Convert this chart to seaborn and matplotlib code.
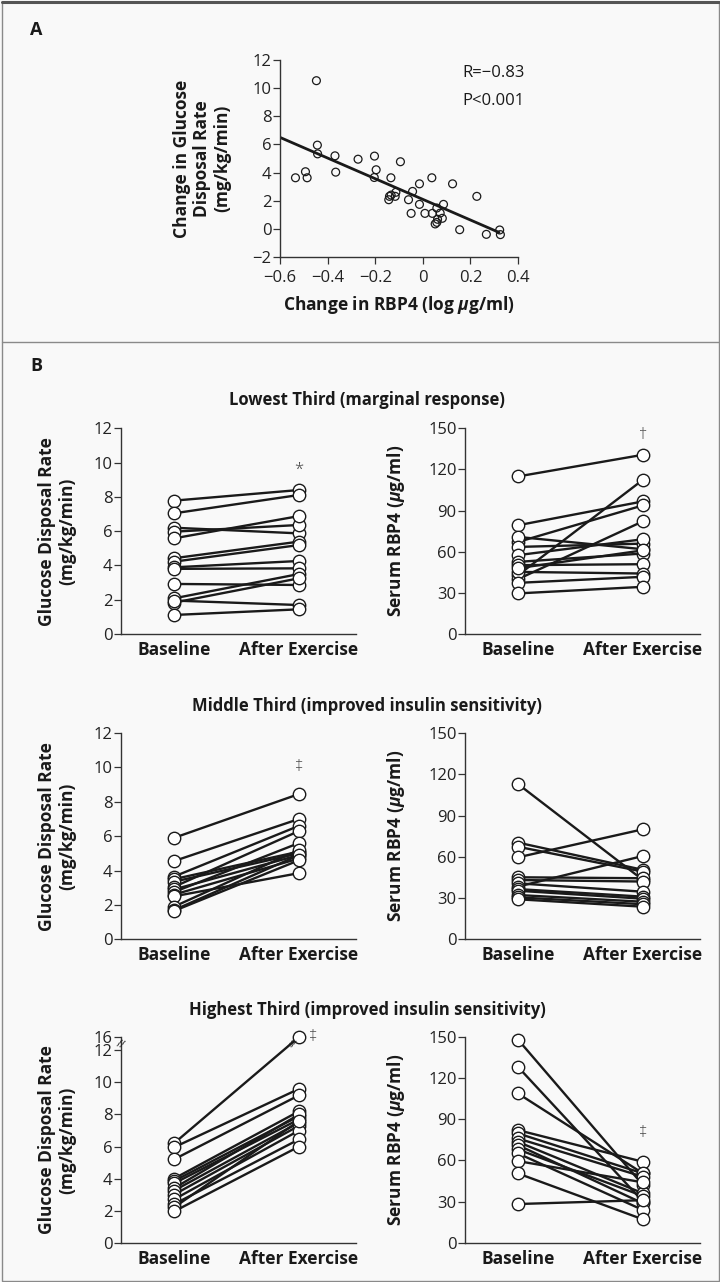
import numpy as np
import pandas as pd
import matplotlib
matplotlib.use("Agg")
import matplotlib.pyplot as plt
import matplotlib.transforms as mtransforms
from matplotlib.patches import Rectangle
from matplotlib.lines import Line2D
import seaborn as sns

sns.set_theme(style="ticks")
FONT = ["Open Sans", "DejaVu Sans"]
plt.rcParams["font.family"] = FONT
plt.rcParams["mathtext.fontset"] = "custom"
plt.rcParams["mathtext.it"] = "Open Sans:italic:bold"
plt.rcParams["mathtext.rm"] = "Open Sans:bold"
plt.rcParams["axes.unicode_minus"] = True

# ---------------- Panel A data ----------------
rbp4_change = [-0.535, -0.493, -0.486, -0.447, -0.443, -0.442, -0.369, -0.366, -0.272,
               -0.203, -0.196, -0.204, -0.134, -0.094, -0.140, -0.143, -0.133, -0.116,
               -0.113, -0.043, -0.060, -0.014, -0.014, -0.049, 0.009, 0.040, 0.038,
               0.059, 0.052, 0.059, 0.062, 0.073, 0.082, 0.087, 0.125, 0.155, 0.227,
               0.267, 0.323, 0.326]
gdr_change = [3.63, 4.06, 3.63, 10.53, 5.95, 5.33, 5.19, 4.03, 4.95,
              5.17, 4.20, 3.65, 3.63, 4.77, 2.31, 2.07, 2.40, 2.31,
              2.60, 2.66, 2.07, 3.20, 1.74, 1.10, 1.10, 1.10, 3.63,
              1.48, 0.35, 0.46, 0.68, 1.12, 0.75, 1.74, 3.20, -0.06, 2.31,
              -0.39, -0.08, -0.41]
fit_x = [-0.6, 0.32]
fit_y = [6.5, -0.25]
stat_lines = ["R=\u22120.83", "P<0.001"]

# ---------------- Panel B data ----------------
times = ["Baseline", "After Exercise"]
row_titles = ["Lowest Third (marginal response)",
              "Middle Third (improved insulin sensitivity)",
              "Highest Third (improved insulin sensitivity)"]

low_gdr_base = [7.78, 7.04, 6.20, 5.97, 5.58, 4.42, 4.22, 3.89, 3.80, 2.92, 2.08, 1.83, 1.95, 1.11]
low_gdr_after = [8.40, 8.11, 5.87, 6.36, 6.88, 5.39, 5.19, 4.26, 3.83, 2.86, 3.50, 3.25, 1.69, 1.44]
low_rbp_base = [114.9, 79.3, 67.1, 42.9, 40.0, 70.8, 63.5, 57.5, 52.6, 50.2, 45.3, 37.3, 29.6, 48.0]
low_rbp_after = [130.7, 96.7, 93.8, 112.5, 82.2, 61.8, 65.9, 69.1, 58.7, 50.9, 44.1, 41.7, 34.4, 61.0]

mid_gdr_base = [5.90, 4.55, 3.65, 3.50, 3.35, 3.05, 2.90, 2.75, 2.60, 2.50, 1.90, 1.70, 1.65]
mid_gdr_after = [8.45, 7.00, 6.60, 5.10, 5.00, 6.30, 4.90, 5.60, 4.70, 3.85, 5.20, 4.90, 4.60]
mid_rbp_base = [112.9, 70.3, 67.3, 59.6, 45.1, 43.1, 40.7, 38.3, 36.5, 35.3, 32.2, 30.5, 29.1]
mid_rbp_after = [43.1, 50.5, 49.2, 80.0, 44.4, 42.0, 34.6, 60.6, 31.0, 29.5, 27.3, 25.5, 23.7]

high_gdr_base = [6.20, 5.95, 5.20, 4.00, 3.85, 3.70, 3.40, 3.25, 3.00, 2.70, 2.40, 2.20, 1.95]
high_gdr_after = [16.0, 9.60, 9.20, 8.20, 7.90, 7.70, 8.00, 7.50, 7.30, 7.00, 6.45, 7.60, 6.00]
high_rbp_base = [148.1, 128.2, 108.8, 82.1, 79.7, 76.0, 73.5, 71.1, 68.0, 65.1, 59.5, 50.5, 28.2]
high_rbp_after = [42.0, 30.0, 50.5, 59.0, 50.5, 48.1, 36.0, 28.7, 34.0, 23.8, 44.0, 17.0, 31.0]

gdr_ticks = [0, 2, 4, 6, 8, 10, 12]
gdr_ticks_high = [0, 2, 4, 6, 8, 10, 12, 16]
rbp_ticks = [0, 30, 60, 90, 120, 150]

# significance marks: (text, x position, y value)
marks = {
    ("low", "gdr"): ("*", 1.0, 9.6),
    ("low", "rbp"): ("\u2020", 1.0, 145),
    ("mid", "gdr"): ("\u2021", 1.0, 10.0),
    ("high", "gdr"): ("\u2021", 1.11, 16.0),
    ("high", "rbp"): ("\u2021", 1.0, 80),
}

# ---------------- Figure ----------------
W, H = 720, 1282
BG = "#f9f9f9"
INK = "#1a1a1a"
SPINE = "#333333"
TICK_FS = 12
LABEL_FS = 12.5
fig = plt.figure(figsize=(W / 100, H / 100), dpi=100, facecolor=BG)


def rect(x0, y0, x1, y1):
    return [x0 / W, 1 - y1 / H, (x1 - x0) / W, (y1 - y0) / H]


def style_axes(ax):
    ax.set_facecolor(BG)
    for s in ["top", "right"]:
        ax.spines[s].set_visible(False)
    for s in ["left", "bottom"]:
        ax.spines[s].set_color(SPINE)
        ax.spines[s].set_linewidth(1.0)
    ax.tick_params(axis="both", colors=SPINE, labelcolor="#222222", labelsize=TICK_FS,
                   width=0.9, length=5, direction="out")


# Panel A
axA = fig.add_axes(rect(280, 60, 518, 257))
style_axes(axA)
sns.scatterplot(x=rbp4_change, y=gdr_change, ax=axA, s=32, facecolor="none",
                edgecolor=INK, linewidth=0.9, zorder=3, clip_on=False, legend=False)
sns.lineplot(x=fit_x, y=fit_y, ax=axA, color=INK, lw=2.0, zorder=2)
axA.set_xlim(-0.6, 0.4)
axA.set_ylim(-2, 12)
axA.set_xticks([-0.6, -0.4, -0.2, 0, 0.2, 0.4])
axA.set_xticklabels(["\u22120.6", "\u22120.4", "\u22120.2", "0", "0.2", "0.4"])
axA.set_yticks([-2, 0, 2, 4, 6, 8, 10, 12])
axA.set_yticklabels(["\u22122", "0", "2", "4", "6", "8", "10", "12"])
axA.tick_params(axis="y", pad=1)
axA.tick_params(axis="x", pad=4)
axA.set_ylabel("Change in Glucose\nDisposal Rate\n(mg/kg/min)", fontsize=LABEL_FS,
               fontweight="bold", color=INK, linespacing=1.15)
axA.yaxis.set_label_coords(-0.205, 0.5)
axA.set_xlabel("Change in RBP4 (log $\\mu$g/ml)", fontsize=LABEL_FS, fontweight="bold", color=INK)
axA.xaxis.set_label_coords(0.5, -0.19)
for i, t in enumerate(stat_lines):
    fig.text(462 / W, 1 - (73 + 28 * i) / H, t, fontsize=12, color=INK, va="center")


def paired(ax, base, after):
    n = len(base)
    df = pd.DataFrame({
        "subject": list(range(n)) * 2,
        "pos": [0] * n + [1] * n,
        "value": list(base) + list(after),
    })
    sns.lineplot(data=df, x="pos", y="value", units="subject", estimator=None,
                 color=INK, lw=1.7, ax=ax, legend=False, sort=False, zorder=2)
    sns.scatterplot(data=df, x="pos", y="value", s=80, facecolor="white",
                    edgecolor=INK, linewidth=1.0, zorder=3, clip_on=False,
                    ax=ax, legend=False)


rows = [
    ("low", 428.3, 634.0, low_gdr_base, low_gdr_after, low_rbp_base, low_rbp_after),
    ("mid", 733.0, 939.3, mid_gdr_base, mid_gdr_after, mid_rbp_base, mid_rbp_after),
    ("high", 1037.0, 1242.7, high_gdr_base, high_gdr_after, high_rbp_base, high_rbp_after),
]
title_y = [400, 706, 1010]


def fwd(v):
    v = np.asarray(v, dtype=float)
    return np.where(v <= 12, v, 12 + (v - 12) * 0.209)


def inv(u):
    u = np.asarray(u, dtype=float)
    return np.where(u <= 12, u, 12 + (u - 12) / 0.209)


for (key, top, bot, gb, ga, rb, ra), ty, title in zip(rows, title_y, row_titles):
    fig.text(367 / W, 1 - ty / H, title, ha="center", va="center", fontsize=12,
             fontweight="bold", color=INK)
    axL = fig.add_axes(rect(121, top, 356, bot))
    axR = fig.add_axes(rect(465, top, 700, bot))
    for ax in (axL, axR):
        style_axes(ax)
    if key == "high":
        axL.set_yscale("function", functions=(fwd, inv))
    paired(axL, gb, ga)
    paired(axR, rb, ra)
    for ax in (axL, axR):
        ax.set_xlim(-0.424, 1.456)
        ax.set_xticks([0, 1])
        ax.set_xticklabels(times, fontsize=LABEL_FS, fontweight="bold", color=INK)
        ax.tick_params(axis="x", length=0, pad=5)
        ax.tick_params(axis="y", pad=1)
        ax.set_xlabel("")
    ticks = gdr_ticks_high if key == "high" else gdr_ticks
    axL.set_ylim(0, 16 if key == "high" else 12)
    axL.set_yticks(ticks)
    axL.yaxis.set_minor_locator(matplotlib.ticker.NullLocator())
    axL.set_yticklabels([str(t) for t in ticks])
    axR.set_ylim(0, 150)
    axR.set_yticks(rbp_ticks)
    axL.set_ylabel("Glucose Disposal Rate\n(mg/kg/min)", fontsize=LABEL_FS,
                   fontweight="bold", color=INK, linespacing=1.15)
    axL.yaxis.set_label_coords(-0.19, 0.5)
    axR.set_ylabel("Serum RBP4 ($\\mu$g/ml)", fontsize=LABEL_FS, fontweight="bold", color=INK)
    axR.yaxis.set_label_coords(-0.245, 0.5)
    for side, ax in (("gdr", axL), ("rbp", axR)):
        if (key, side) in marks:
            sym, mx, my = marks[(key, side)]
            ax.text(mx, my, sym, ha="center", va="center", fontsize=12,
                    color="#444444", zorder=4, fontweight="light")
    if key == "high":
        blend = mtransforms.blended_transform_factory(axL.transAxes, axL.transData)
        axL.text(0.0, 13.5, "//", transform=blend, ha="center", va="center",
                 fontsize=8, color=INK, rotation=-20, zorder=5)
        axL.text(0.94, 13.5, "//", ha="center", va="center", fontsize=8,
                 color=INK, rotation=-20, zorder=5)

# panel letters, frame, separator
fig.text(30 / W, 1 - 30 / H, "A", fontsize=13, fontweight="bold", color=INK,
         ha="left", va="center")
fig.text(30 / W, 1 - 366 / H, "B", fontsize=13, fontweight="bold", color=INK,
         ha="left", va="center")
fig.add_artist(Rectangle((1.5 / W, 1.5 / H), (W - 3) / W, (H - 3) / H,
                         transform=fig.transFigure, fill=False,
                         edgecolor="#8a8a8a", lw=1.0))
fig.add_artist(Line2D([1.5 / W, (W - 1.5) / W], [1 - 2 / H, 1 - 2 / H],
                      transform=fig.transFigure, color="#555555", lw=2.2))
fig.add_artist(Line2D([1.5 / W, (W - 1.5) / W], [1 - 342 / H, 1 - 342 / H],
                      transform=fig.transFigure, color="#8a8a8a", lw=1.0))

fig.savefig("out.png", dpi=100, facecolor=BG)
